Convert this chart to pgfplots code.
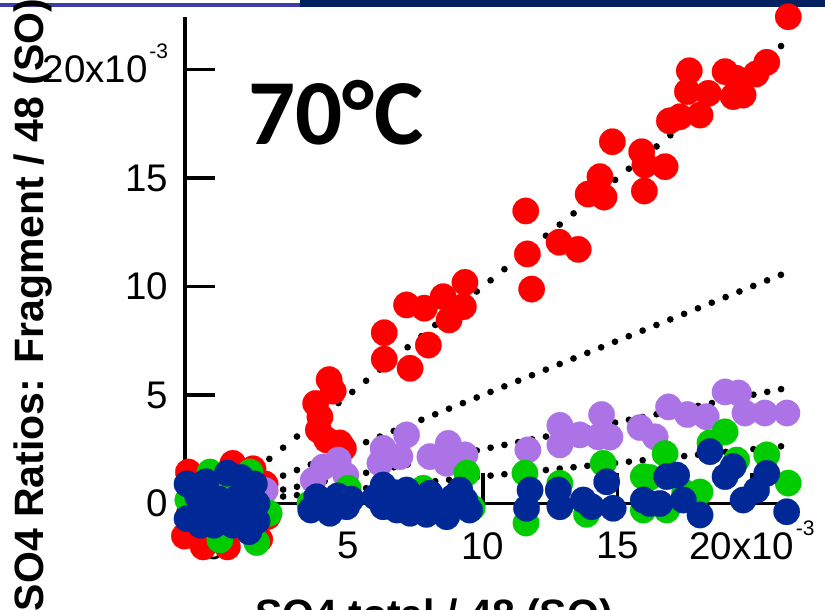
\documentclass[border=0pt]{standalone}
\usepackage{pgfplots}
\usepackage{pgfplotstable}
\pgfplotsset{compat=1.18}
\usepackage{fontspec}
\setmainfont{Liberation Sans}
\newfontfamily\calibri{Carlito}
\definecolor{cred}{RGB}{255,0,0}
\definecolor{cpurple}{RGB}{172,115,230}
\definecolor{cgreen}{RGB}{0,204,0}
\definecolor{cblue}{RGB}{0,40,150}
\definecolor{navy}{RGB}{0,32,96}
\definecolor{topline}{RGB}{60,60,170}
\newcommand{\expo}[1]{\hspace{1.5pt}\smash{\raisebox{24pt}{\fontsize{21}{21}\selectfont #1}}}

\pgfplotstableread{
x y
21.35 22.43
20.55 20.33
20.15 19.79
19.67 18.82
19.0 19.9
19.3 18.75
19.4 19.6
17.67 19.94
17.6 18.98
18.38 18.9
18.07 17.9
16.93 17.63
17.32 17.82
14.81 16.67
15.9 16.21
16.02 15.6
16.77 15.52
16.0 14.4
14.35 15.06
13.91 14.26
14.5 14.12
11.59 13.48
11.65 11.5
12.83 12.04
13.54 11.71
11.81 9.88
9.33 10.19
9.27 9.07
8.74 8.46
8.52 9.53
7.82 9.0
7.16 9.15
6.33 7.87
7.97 7.3
7.29 6.23
6.33 6.65
4.28 5.71
4.43 5.18
3.78 4.61
3.94 3.99
3.88 3.39
4.19 2.93
4.68 2.79
4.81 2.54
-0.95 1.45
0.7 1.85
1.45 1.6
-1.1 -1.5
-0.4 -2.0
0.5 -2.0
1.7 -1.65
2.0 -0.6
0.3 0.6
1.1 0.2
-0.5 0.9
0.2 -1.1
1.3 -0.9
1.9 0.9
-0.9 -0.4
}\redtab

\pgfplotstableread{
x y
3.69 1.08
4.06 1.68
4.62 2.0
4.9 1.3
6.17 1.86
6.29 2.54
6.91 2.16
7.16 3.16
8.03 2.16
8.71 2.77
8.65 1.85
9.33 2.24
11.67 2.47
12.86 3.6
12.86 2.7
13.6 3.16
14.41 4.1
14.72 3.06
14.28 3.07
15.84 3.5
16.4 3.07
16.9 4.45
17.6 4.1
18.3 4.0
19.0 5.14
19.5 5.09
19.74 4.17
20.48 4.17
21.3 4.17
-0.9 0.7
1.9 0.6
0.5 1.0
1.0 -0.2
-0.4 0.2
}\purpletab

\pgfplotstableread{
x y
3.57 0.0
4.99 0.7
4.3 -0.3
7.78 0.7
9.4 1.4
9.6 -0.2
6.5 0.3
11.56 1.4
11.6 -0.9
12.86 0.93
13.85 -0.5
14.47 1.85
15.96 1.24
15.96 -0.3
16.77 2.3
16.83 -0.3
16.2 1.2
18.07 0.53
18.44 2.8
19.0 3.3
19.43 2.0
20.55 2.24
21.35 0.94
17.5 0.5
-0.97 0.16
0.22 -1.68
1.59 -1.8
2.05 -0.45
-0.15 1.45
1.34 1.45
0.6 0.2
-0.5 -0.8
1.0 -0.5
0.1 0.7
}\greentab

\pgfplotstableread{
x y
3.82 0.31
4.31 -0.45
4.93 -0.15
3.6 -0.3
4.6 0.35
5.1 0.2
6.29 0.85
6.29 -0.15
6.0 0.3
6.7 0.5
6.8 -0.3
7.16 0.62
7.29 -0.45
7.6 0.2
7.9 -0.5
8.03 0.47
8.3 -0.2
8.65 -0.61
8.9 0.3
9.14 0.62
9.33 0.16
9.5 -0.3
11.75 0.62
11.62 -0.22
12.8 0.62
12.86 -0.15
13.73 0.16
14.04 -0.15
14.6 1.0
14.84 -0.22
15.96 0.16
16.83 1.24
17.2 1.31
16.58 0.0
17.45 0.16
18.07 -0.53
18.44 2.39
19.0 1.24
19.3 1.7
19.67 0.16
20.17 0.62
20.55 1.39
21.29 -0.38
16.2 0.0
-1.0 0.9
-1.0 -0.7
-0.6 0.3
-0.3 1.0
0.5 1.4
1.0 1.2
1.5 0.9
1.6 0.0
1.3 -1.3
0.7 -1.0
0.0 -1.0
-0.5 -1.0
0.2 0.2
0.9 0.3
0.5 -0.3
-0.2 -0.3
1.2 -0.5
1.6 -0.8
}\bluetab

\begin{document}
\begin{tikzpicture}
\useasboundingbox (0pt,0pt) rectangle (825pt,610pt);
\clip (0pt,0pt) rectangle (825pt,610pt);
\fill[topline] (0pt,603.3pt) rectangle (300pt,606.7pt);
\fill[navy] (300pt,603pt) rectangle (825pt,610pt);
\begin{axis}[
  at={(185.2pt,106.5pt)}, anchor=south west,
  scale only axis, width=609.8pt, height=486.1pt,
  xmin=-1.07, xmax=21.6, ymin=0, ymax=22.4,
  axis x line*=bottom, axis y line*=left,
  xtick pos=left, ytick pos=left,
  tick align=inside,
  major tick length=30pt,
  axis line style={line width=3.5pt, black},
  tick style={line width=3.5pt, black},
  xtick={0,5,10,15,20}, ytick={0,5,10,15,20},
  xticklabels={0,5,10,15,{20x10\expo{-3}}},
  yticklabels={0,5,10,15,{20x10\expo{-3}}},
  tick label style={font=\fontsize{38.5}{40}\selectfont, inner sep=0pt},
  xticklabel style={anchor=north, yshift=-28.5pt},
  yticklabel style={anchor=east, xshift=-17pt},
  clip=false,
]
\addplot[only marks, mark=*, mark size=13.2pt, color=cred, line width=0.2pt] table {\redtab};
\addplot[only marks, mark=*, mark size=13.2pt, color=cpurple, line width=0.2pt] table {\purpletab};
\addplot[only marks, mark=*, mark size=13.2pt, color=cgreen, line width=0.2pt] table {\greentab};
\addplot[only marks, mark=*, mark size=13.2pt, color=cblue, line width=0.2pt] table {\bluetab};
\addplot[no marks, black, line width=6.7pt, line cap=round, dash pattern=on 0pt off 17.77pt] coordinates {(0,0) (21.09,21.09)};
\addplot[no marks, black, line width=6.7pt, line cap=round, dash pattern=on 0pt off 14.91pt] coordinates {(0,0) (21.09,10.545)};
\addplot[no marks, black, line width=6.7pt, line cap=round, dash pattern=on 0pt off 14.11pt] coordinates {(0,0) (21.09,5.2725)};
\addplot[no marks, black, line width=6.7pt, line cap=round, dash pattern=on 0pt off 13.90pt] coordinates {(0,0) (21.09,2.636)};
\end{axis}
\node[rotate=90, anchor=base, inner sep=0pt, font=\bfseries\fontsize{41}{41}\selectfont] at (43pt,305pt) {SO4 Ratios: Fragment / 48 (SO)};
\node[anchor=base, inner sep=0pt, font=\bfseries\fontsize{41}{41}\selectfont] at (434pt,-19pt) {SO4 total / 48 (SO)};
\node[anchor=base west, inner sep=0pt, font=\calibri\bfseries\fontsize{93}{93}\selectfont] at (248pt,465pt) {70°C};
\end{tikzpicture}
\end{document}
